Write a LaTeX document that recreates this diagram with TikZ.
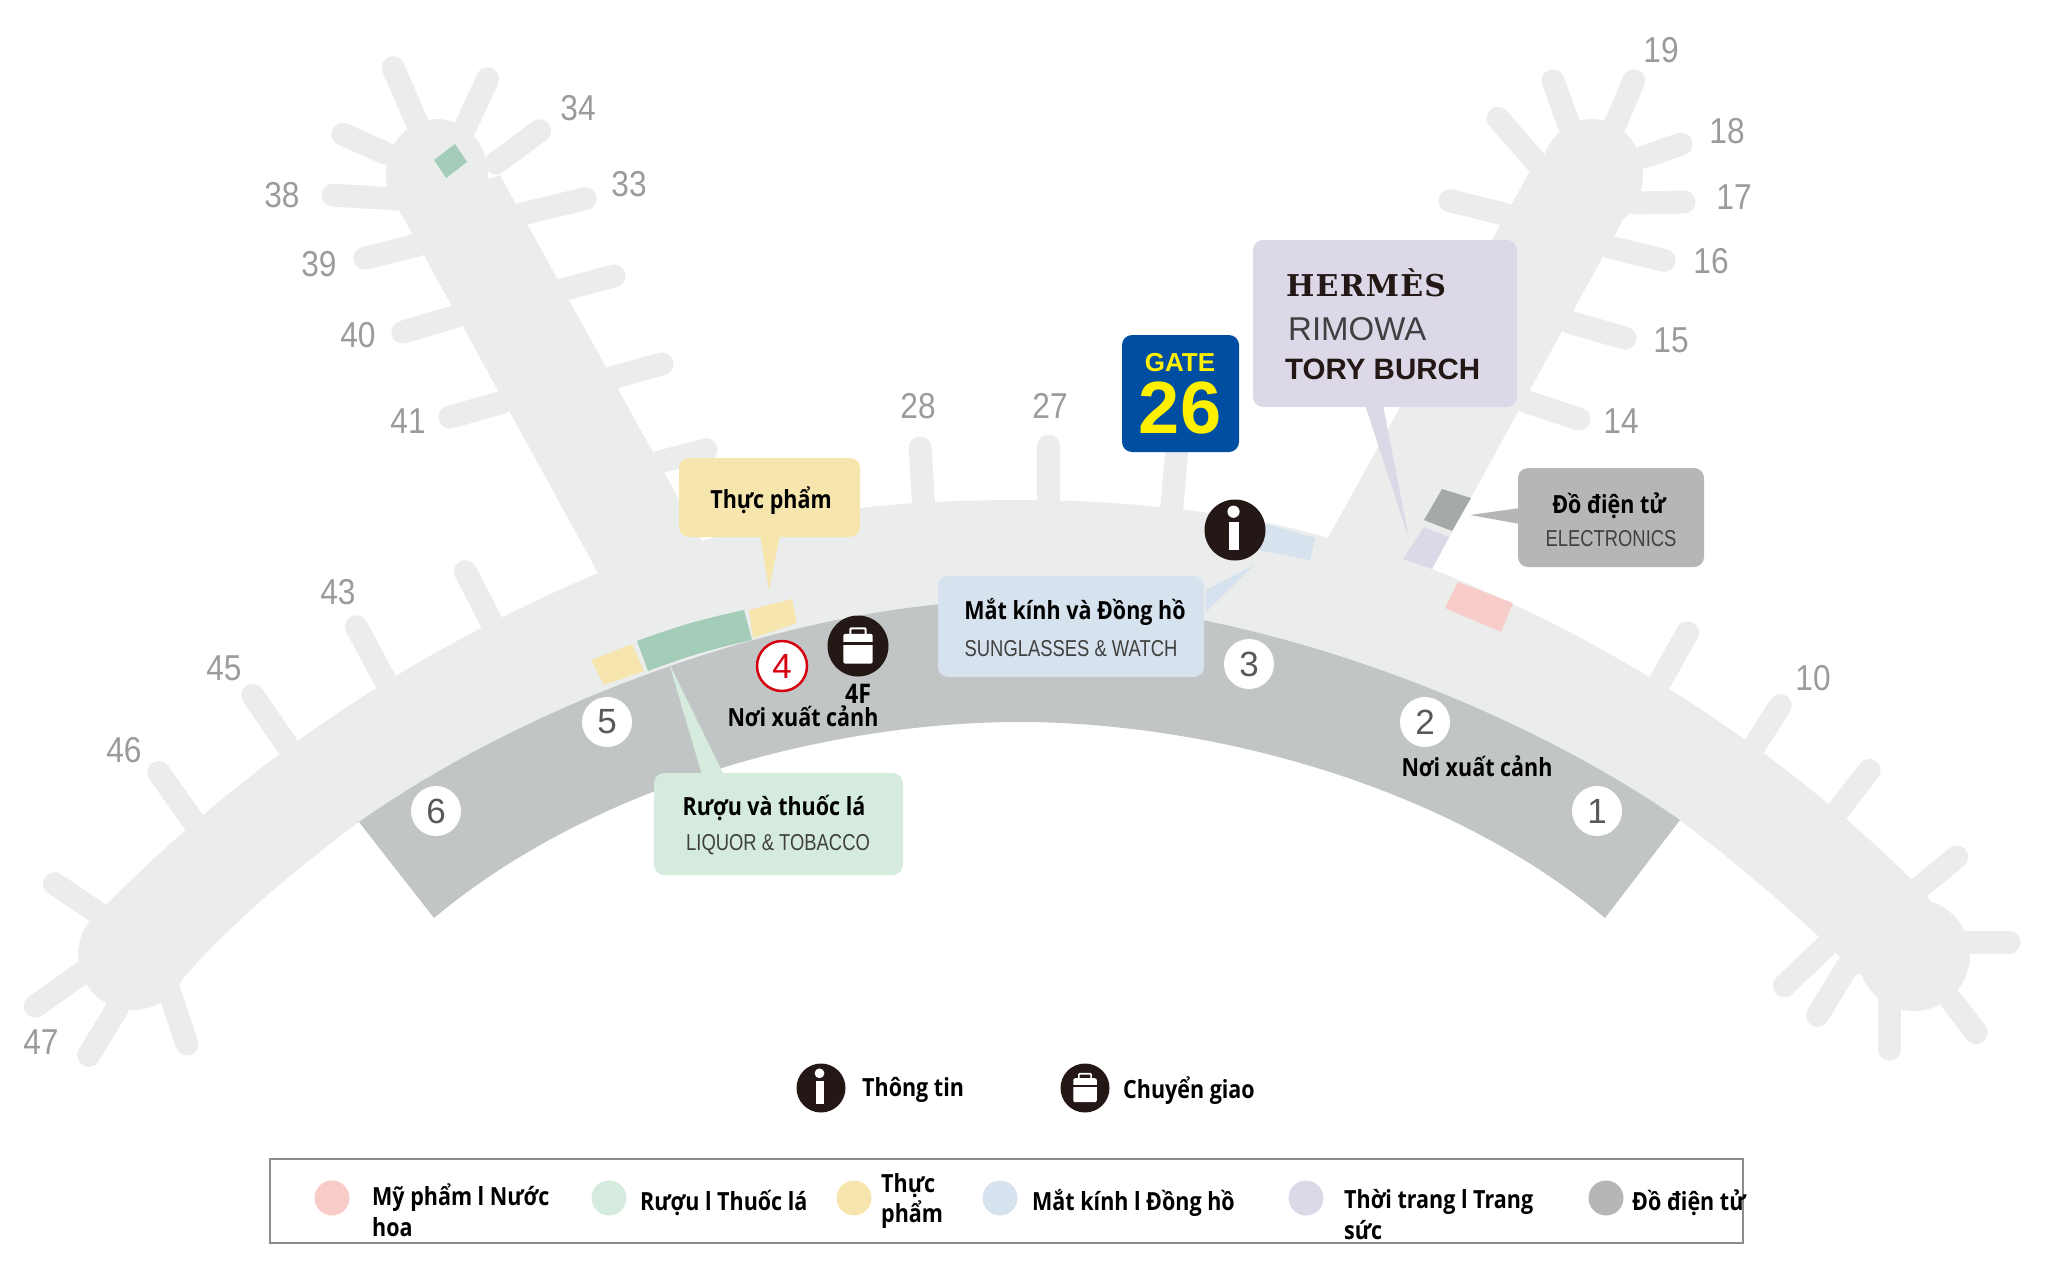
\documentclass[tikz,border=0pt]{standalone}
\usepackage{fontspec}
\setmainfont{Liberation Sans}
\newfontfamily\vnb[FakeStretch=0.86]{Open Sans}
\newfontfamily\lsn[FakeStretch=0.88]{Liberation Sans}
\newfontfamily\lsub[FakeStretch=0.80]{Liberation Sans}
\newfontfamily\slab[LetterSpace=4]{DejaVu Serif}
\newcommand{\fsz}[1]{\fontsize{#1}{#1}\selectfont}
\definecolor{hall}{HTML}{EBECEC}
\definecolor{apron}{HTML}{C1C5C5}
\definecolor{gatenum}{HTML}{9B9B9B}
\definecolor{ink}{HTML}{231815}
\definecolor{pinkc}{HTML}{F7CCC9}
\definecolor{greenc}{HTML}{D4EBDD}
\definecolor{greend}{HTML}{A3CDB9}
\definecolor{yellowc}{HTML}{F6E6AE}
\definecolor{bluec}{HTML}{D6E2EE}
\definecolor{lavc}{HTML}{DCD8E8}
\definecolor{grayc}{HTML}{B5B6B6}
\definecolor{grayd}{HTML}{A5A9A9}
\definecolor{navy}{HTML}{004EA2}
\definecolor{yell}{HTML}{FFF000}
\definecolor{redc}{HTML}{D7000F}
\tikzset{
  stub/.style={draw=hall,line width=23pt,line cap=round,shorten <=3pt},
  gnum/.style={text=gatenum,font=\lsn\fsz{36}},
  snum/.style={circle,fill=white,minimum size=50pt,inner sep=0pt,text=black!65,font=\fsz{35}},
  head/.style={font=\vnb\bfseries\fsz{25},text=black,inner sep=0pt},
  subt/.style={font=\lsub\fsz{23},text=black!75,inner sep=0pt},
  lgd/.style={font=\vnb\bfseries\fsz{25},text=black,inner sep=0pt,anchor=west},
  dot/.style={circle,minimum size=35pt,inner sep=0pt},
  box/.style={rounded corners=10pt},
}
\newcommand{\infoicon}[4]{% name, x, y, radius
  \node[circle,fill=ink,minimum size=#4*2pt,inner sep=0pt] (#1) at (#2,#3) {};
  \fill[white] (#2,#3) ++(-1.5,-#4*0.6) circle[radius=#4*0.2];
  \fill[white] (#2-#4*0.19,#3-#4*0.27) rectangle (#2+#4*0.14,#3+#4*0.66);
}
\newcommand{\bagicon}[4]{% name, x, y, radius
  \node[circle,fill=ink,minimum size=#4*2pt,inner sep=0pt] (#1) at (#2,#3) {};
  \draw[white,line width=#4*0.07pt,rounded corners=1pt] (#2-#4*0.25,#3-#4*0.37) -- (#2-#4*0.25,#3-#4*0.58) -- (#2+#4*0.25,#3-#4*0.58) -- (#2+#4*0.25,#3-#4*0.37);
  \fill[white,rounded corners=2pt] (#2-#4*0.48,#3-#4*0.40) rectangle (#2+#4*0.48,#3+#4*0.58);
  \fill[ink] (#2-#4*0.48,#3-#4*0.13) rectangle (#2+#4*0.48,#3-#4*0.03);
}
\begin{document}
\begin{tikzpicture}[x=1pt,y=-1pt]
\useasboundingbox (0,0) rectangle (2048,1267);
% stubs
\foreach \a/\b/\c/\d in {392/65/418/125,489/76/464/130,542/129/496/163,340/133/385/153,330/195/398/199,588/198/522/214,362/259/418/245,617/275/562/290,400/333/457/316,665/363/611/378,447/418/503/402,709/449/656/463,464/569/493/625,355/624/385/680,251/693/287/745,157/770/196/825,52/882/98/913,33/1008/82/973,87/1058/118/1007,188/1047/170/993,920/445/924/510,1048/443/1048/510,1177/449/1171/515,1552/78/1569/125,1635/78/1615/125,1496/116/1537/163,1684/143/1644/157,1687/202/1635/203,1447/200/1504/214,1667/261/1609/247,1628/339/1569/322,1582/420/1527/402,1689/630/1661/680,1782/703/1755/745,1871/768/1837/812,1959/855/1919/888,2012/942/1964/942,1782/988/1827/945,1816/1018/1847/967,1889/1052/1889/997,1978/1035/1951/1000}
  \draw[stub] (\a,\b) -- (\c,\d);
% concourse and piers
\fill[hall] (108,903) .. controls (270,740) and (440,640) .. (598,573)
  -- (398,208) -- (500,175) -- (702,541)
  .. controls (800,510) and (900,500) .. (1019,500)
  .. controls (1140,500) and (1250,515) .. (1328,538)
  -- (1530,171) -- (1643,175) -- (1625,216) -- (1432,569)
  .. controls (1610,640) and (1785,750) .. (1925,893)
  -- (1965,950) -- (1857,975)
  .. controls (1810,925) and (1745,870) .. (1680,820)
  .. controls (1500,695) and (1230,600) .. (1019,600)
  .. controls (809,600) and (539,695) .. (359,822)
  .. controls (294,870) and (229,925) .. (180,982)
  -- (80,950) -- cycle;
\fill[hall] (133,955) circle[radius=55];
\fill[hall] (1914,955) circle[radius=56];
\fill[hall] (437,174) ellipse[x radius=51,y radius=55];
\fill[hall] (1592,175) ellipse[x radius=51,y radius=56];
% apron
\fill[apron] (359,822) .. controls (539,695) and (809,600) .. (1019,600)
  .. controls (1230,600) and (1500,695) .. (1680,820)
  -- (1605,918)
  .. controls (1440,780) and (1200,722) .. (1019,722)
  .. controls (839,722) and (599,780) .. (434,918)
  -- cycle;
% shops
\fill[greend] (455,144) -- (467,162) -- (446,178) -- (434,160) -- cycle;
\fill[greend] (637,641) to[bend left=4] (744,610) -- (752,640) to[bend right=4] (648,671) -- cycle;
\fill[yellowc] (749,610) -- (792,599) -- (797,623) -- (753,638) -- cycle;
\fill[yellowc] (591,660) -- (632,644) -- (644,671) -- (604,685) -- cycle;
\fill[bluec] (1266,524) -- (1315,538) -- (1310,560) -- (1259,550) -- cycle;
\fill[lavc] (1424,527) -- (1449,537) -- (1432,569) -- (1403,559) -- cycle;
\fill[grayd] (1442,489) -- (1471,498) -- (1452,531) -- (1424,520) -- cycle;
\fill[pinkc] (1458,582) -- (1513,603) -- (1501,632) -- (1445,608) -- cycle;
% callouts
\fill[yellowc,box] (679,458) rectangle (860,537);
\fill[yellowc] (760,535) -- (780,535) -- (769,590) -- cycle;
\node[head] (food) at (771,501) {Thực phẩm};
\fill[lavc,box] (1253,240) rectangle (1517,407);
\fill[lavc] (1365,405) -- (1383,405) -- (1409,539) -- cycle;
\node[anchor=west,inner sep=0pt,font=\slab\bfseries\fsz{30},text=ink] (hermes) at (1286,283) {HERMÈS};
\node[anchor=west,inner sep=0pt,font=\fsz{33},text=black!75] (rimowa) at (1288,329) {RIMOWA};
\node[anchor=west,inner sep=0pt,font=\bfseries\fsz{29.5},text=ink] (tory) at (1285,369) {TORY BURCH};
\fill[navy,box] (1122,335) rectangle (1239,452);
\node[inner sep=0pt,font=\bfseries\fsz{26},text=yell] (gate) at (1180,363) {GATE};
\node[inner sep=0pt,font=\bfseries\fsz{74},text=yell] (gnumb) at (1180,408) {26};
\fill[bluec] (1206,590) -- (1206,612) -- (1254,565) -- cycle;
\fill[bluec,box] (938,576) rectangle (1204,677);
\node[head] (sunh) at (1075,612) {Mắt kính và Đồng hồ};
\node[subt] (suns) at (1071,649) {SUNGLASSES \& WATCH};
\fill[grayc] (1520,508) -- (1520,524) -- (1470,515) -- cycle;
\fill[grayc,box] (1518,468) rectangle (1704,567);
\node[head] (eleh) at (1609,506) {Đồ điện tử};
\node[subt] (eles) at (1611,539) {ELECTRONICS};
\fill[greenc] (702,775) -- (724,775) -- (669,663) -- cycle;
\fill[greenc,box] (654,773) rectangle (903,875);
\node[head] (liqh) at (774,808) {Rượu và thuốc lá};
\node[subt] (liqs) at (778,845) {LIQUOR \& TOBACCO};
% numbered circles
\node[snum] (n6) at (436,811) {6};
\node[snum] (n5) at (607,722) {5};
\node[snum] (n3) at (1249,664) {3};
\node[snum] (n2) at (1425,722) {2};
\node[snum] (n1) at (1597,811) {1};
\node[circle,draw=redc,line width=2.5pt,fill=white,minimum size=50pt,inner sep=0pt,text=redc,font=\fsz{35}] (n4) at (782,666) {4};
\infoicon{info}{1235}{530}{30.5}
\bagicon{bag}{858}{646}{30.5}
\node[inner sep=0pt,font=\vnb\bfseries\fsz{27},text=black] (fourf) at (858,694) {4F};
\node[head] (dep4) at (803,716) {Nơi xuất cảnh};
\node[head] (dep2) at (1477,766) {Nơi xuất cảnh};
% gate numbers
\node[gnum] (g19) at (1661,50) {19};
\node[gnum] (g18) at (1727,131) {18};
\node[gnum] (g17) at (1734,197) {17};
\node[gnum] (g16) at (1711,261) {16};
\node[gnum] (g15) at (1671,340) {15};
\node[gnum] (g14) at (1621,421) {14};
\node[gnum] (g34) at (578,108) {34};
\node[gnum] (g33) at (629,184) {33};
\node[gnum] (g38) at (282,195) {38};
\node[gnum] (g39) at (319,264) {39};
\node[gnum] (g40) at (358,335) {40};
\node[gnum] (g41) at (408,421) {41};
\node[gnum] (g28) at (918,406) {28};
\node[gnum] (g27) at (1050,406) {27};
\node[gnum] (g43) at (338,592) {43};
\node[gnum] (g45) at (224,668) {45};
\node[gnum] (g46) at (124,750) {46};
\node[gnum] (g47) at (41,1042) {47};
\node[gnum] (g10) at (1813,678) {10};
% icons legend
\infoicon{linfo}{821}{1088}{24.5}
\node[lgd] (tinfo) at (862,1090) {Thông tin};
\bagicon{lbag}{1085}{1088}{24.5}
\node[lgd] (tbag) at (1123,1091) {Chuyển giao};
% legend frame
\draw[black!45,line width=1.5pt] (270,1159) rectangle (1743,1243);
\node[dot,fill=pinkc] (d1) at (332,1198) {};
\node[lgd] (l1a) at (372,1198) {Mỹ phẩm l Nước};
\node[lgd] (l1b) at (372,1227) {hoa};
\node[dot,fill=greenc] (d2) at (609,1198) {};
\node[lgd] (l2) at (640,1203) {Rượu l Thuốc lá};
\node[dot,fill=yellowc] (d3) at (854,1198) {};
\node[lgd] (l3a) at (881,1186) {Thực};
\node[lgd] (l3b) at (881,1215) {phẩm};
\node[dot,fill=bluec] (d4) at (1000,1198) {};
\node[lgd] (l4) at (1032,1203) {Mắt kính l Đồng hồ};
\node[dot,fill=lavc] (d5) at (1306,1198) {};
\node[lgd] (l5a) at (1344,1202) {Thời trang l Trang};
\node[lgd] (l5b) at (1344,1230) {sức};
\node[dot,fill=grayc] (d6) at (1606,1198) {};
\node[lgd] (l6) at (1632,1203) {Đồ điện tử};
\end{tikzpicture}
\end{document}
